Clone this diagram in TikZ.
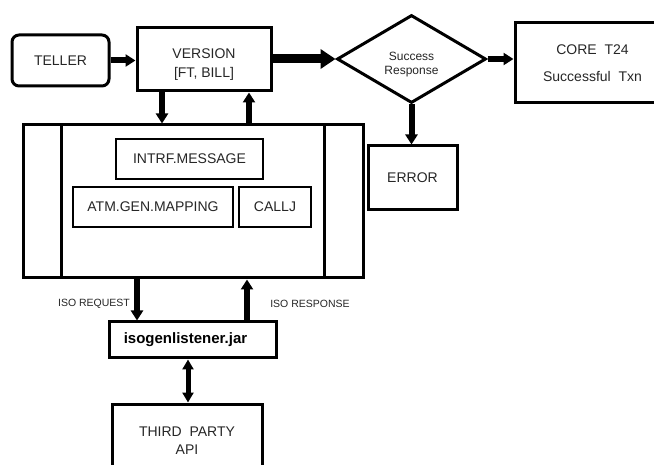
\documentclass[tikz,border=0pt]{standalone}
\usepackage{fontspec}
\setmainfont{Liberation Sans}
\usetikzlibrary{arrows.meta,shapes.geometric}

\tikzset{
  box/.style={draw, line width=3pt, rectangle, inner sep=0pt, align=center,
              font=\fontsize{14}{17}\selectfont, text=black!85},
  subbox/.style={draw, line width=1.8pt, rectangle, inner sep=0pt, align=center,
              font=\fontsize{14}{17}\selectfont, text=black!85},
  lowtext/.style={label={[align=center, font=\fontsize{14}{17}\selectfont, text=black!85, yshift=-5pt]center:#1}},
  flow/.style={line width=6pt, -{Triangle[width=12pt,length=10pt]}},
  bigflow/.style={line width=9pt, -{Triangle[width=19pt,length=15pt]}},
  twoway/.style={line width=5pt, {Triangle[width=11pt,length=10pt]}-{Triangle[width=11pt,length=10pt]}},
  tag/.style={font=\fontsize{10.5}{12}\selectfont, text=black!85, inner sep=0pt}
}

\begin{document}
\begin{tikzpicture}[x=1pt, y=-1pt]
  \clip (0,0) rectangle (654,465);
  \fill[white] (0,0) rectangle (654,465);

  % top row
  \node[box, rounded corners=7pt, minimum width=97pt, minimum height=51pt] (teller) at (60.5,60.5) {TELLER};
  \node[box, minimum width=134pt, minimum height=63pt,
        lowtext={VERSION\\[2pt][FT, BILL]}] (version) at (204,59.5) {};
  \node[draw, line width=3pt, diamond, minimum width=149pt, minimum height=88pt, inner sep=0pt,
        label={[align=center, font=\fontsize{12}{14}\selectfont, text=black!85, yshift=-6pt]center:Success\\Response}]
        (dec) at (411.5,59) {};
  \node[box, minimum width=155pt, minimum height=80pt] (core) at (592.5,63) {CORE~ T24\\[10pt]Successful~ Txn};
  \node[box, minimum width=89pt, minimum height=64pt] (error) at (412.5,178) {ERROR};

  % processing block with its two side bars
  \node[box, minimum width=340pt, minimum height=153pt] (big) at (193,201.5) {};
  \draw[line width=3pt] ([xshift=40pt]big.north west) -- ([xshift=40pt]big.south west);
  \draw[line width=3pt] ([xshift=-40pt]big.north east) -- ([xshift=-40pt]big.south east);
  \node[subbox, minimum width=147pt, minimum height=40pt] (intrf) at (189.5,159) {INTRF.MESSAGE};
  \node[subbox, minimum width=160pt, minimum height=40pt] (atm) at (153,207) {ATM.GEN.MAPPING};
  \node[subbox, minimum width=72pt, minimum height=40pt] (callj) at (275,207) {CALLJ};

  % listener and external system
  \node[box, minimum width=167pt, minimum height=36pt, font=\fontsize{15}{18}\selectfont\bfseries, text=black] (jar) at (192.5,340) {\hspace*{-14pt}isogenlistener.jar};
  \node[box, minimum width=150pt, minimum height=74pt] (api) at (187,441) {THIRD~ PARTY\\[1pt]API};

  % connectors
  \draw[flow] (teller.east) -- (teller.east -| version.west);
  \draw[bigflow] (version.east |- dec.west) -- (dec.west);
  \draw[flow] (dec.east) -- (dec.east -| core.west);
  \draw[flow] (dec.south) -- (dec.south |- error.north);
  \draw[flow] ([xshift=-42pt]version.south) -- ([xshift=-42pt]version.south |- big.north);
  \draw[flow] ([xshift=45pt]version.south |- big.north) -- ([xshift=45pt]version.south);
  \draw[flow] ([xshift=-55.5pt]jar.north |- big.south) -- ([xshift=-55.5pt]jar.north);
  \draw[flow] ([xshift=54.5pt]jar.north) -- ([xshift=54.5pt]jar.north |- big.south);
  \draw[twoway] ([xshift=-4.5pt]jar.south) -- ([xshift=-4.5pt]jar.south |- api.north);

  % connector labels
  \node[tag] (req) at (94,304) {ISO REQUEST};
  \node[tag] (resp) at (310,304) {ISO RESPONSE};
\end{tikzpicture}
\end{document}
